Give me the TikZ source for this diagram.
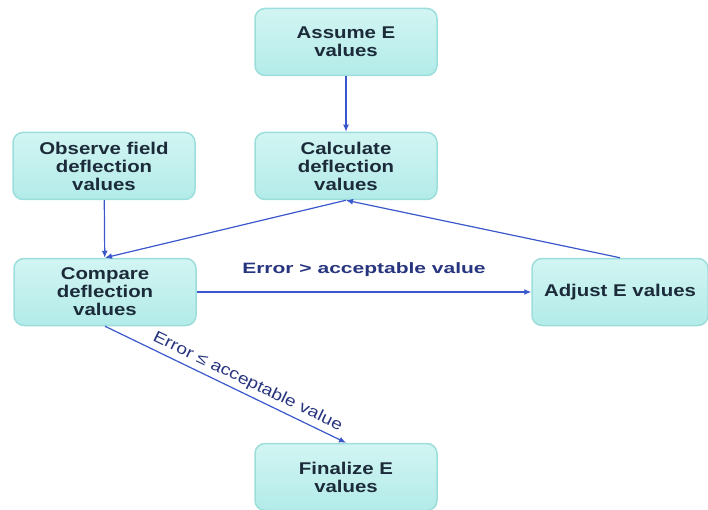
\documentclass[tikz,border=0pt]{standalone}
\usepackage{fontspec}
\setmainfont{Liberation Sans}
\newfontfamily\boxfont[FakeStretch=1.2]{Liberation Sans}
\newfontfamily\wideboxfont[FakeStretch=1.4]{Liberation Sans}
\usetikzlibrary{arrows.meta}
\definecolor{boxfill}{HTML}{B2EBE8}
\definecolor{boxtop}{HTML}{D2F5F3}
\definecolor{boxline}{HTML}{9CDEDC}
\definecolor{boxtext}{HTML}{1C2B3A}
\definecolor{arrowblue}{HTML}{3A58CC}
\definecolor{labelblue}{HTML}{27347E}
\begin{document}
\begin{tikzpicture}[x=1pt,y=-1pt,
  box/.style={rectangle, rounded corners=10pt, draw=boxline, line width=1.5pt,
    top color=boxtop, bottom color=boxfill, minimum width=182pt, minimum height=67pt,
    align=center, text=boxtext, font=\boxfont\fontsize{17}{18}\selectfont\bfseries, inner sep=2pt},
  flow/.style={draw=arrowblue, line width=1.2pt, -{Latex[length=7pt,width=6pt]}},
  lbl/.style={text=labelblue, inner sep=1pt}]
\useasboundingbox (0,0) rectangle (708,510);

\node[box] (assume) at (346,42) {Assume E\\values};
\node[box] (calc) at (346,166) {Calculate\\deflection\\values};
\node[box] (observe) at (104,166) {Observe field\\deflection\\values};
\node[box] (compare) at (105,292) {Compare\\deflection\\values};
\node[box, minimum width=176pt] (adjust) at (620,292) {Adjust E values};
\node[box] (finalize) at (346,477) {Finalize E\\values};

\draw[flow] (assume) -- (calc);
\draw[flow] (observe) -- (compare);
\draw[flow] (calc.south) -- (compare.north);
\draw[flow] (compare) -- (adjust)
  node[lbl, midway, above=14pt, font=\wideboxfont\fontsize{15}{16}\selectfont\bfseries] {Error > acceptable value};
\draw[flow] (adjust.north) -- (calc.south);
\draw[flow] (compare.south) -- (finalize.north)
  node[lbl, pos=0.57, sloped, above=3pt, font=\boxfont\fontsize{16}{17}\selectfont] {Error ≤ acceptable value};
\end{tikzpicture}
\end{document}
